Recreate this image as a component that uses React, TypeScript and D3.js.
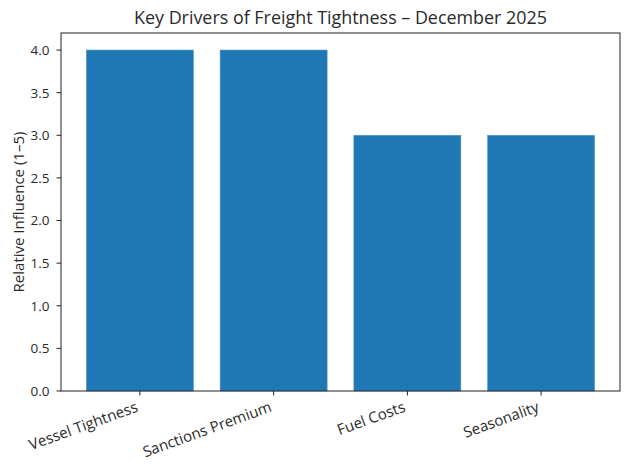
import React from 'react';
import * as d3 from 'd3';

const categories = ['Vessel Tightness', 'Sanctions Premium', 'Fuel Costs', 'Seasonality'];
const values = [4, 4, 3, 3];
const yTicks = [0, 0.5, 1, 1.5, 2, 2.5, 3, 3.5, 4];

const W = 630;
const H = 470;
const m = { left: 61, right: 10, top: 33, bottom: 79 };
const font = '"Open Sans", "Noto Sans", sans-serif';
const textColor = '#2a2a2a';

const App: React.FC = () => {
  const iw = W - m.left - m.right;
  const ih = H - m.top - m.bottom;

  const x = d3.scaleLinear().domain([-0.59, categories.length - 1 + 0.59]).range([0, iw]);
  const y = d3.scaleLinear().domain([0, 4.2]).range([ih, 0]);
  const bw = x(0.8) - x(0);

  return (
    <svg width={W} height={H} style={{ position: 'absolute', left: 0, top: 0, background: '#fff' }}>
      <text x={m.left + iw / 2} y={23.5} textAnchor="middle" fontFamily={font} fontSize={17.9} fill={textColor}>
        Key Drivers of Freight Tightness – December 2025
      </text>
      <g transform={`translate(${m.left},${m.top})`}>
        {values.map((v, i) => (
          <rect
            key={categories[i]}
            x={x(i) - bw / 2}
            y={y(v)}
            width={bw}
            height={y(0) - y(v)}
            fill="#1f77b4"
            stroke="#4d94c9"
            strokeWidth={0.6}
          />
        ))}
        <rect x={0} y={0} width={iw} height={ih} fill="none" stroke="#222" strokeWidth={1} />
        {yTicks.map(t => (
          <g key={t} transform={`translate(0,${y(t)})`}>
            <line x1={-4.5} x2={0} stroke="#222" />
            <text x={-11.5} dy="0.36em" textAnchor="end" fontFamily={font} fontSize={13.5} fill={textColor}>
              {t.toFixed(1)}
            </text>
          </g>
        ))}
        {categories.map((c, i) => (
          <g key={c} transform={`translate(${x(i)},${ih})`}>
            <line y1={0} y2={4.5} stroke="#222" />
            <text
              transform="translate(-1,20) rotate(-20)"
              textAnchor="end"
              fontFamily={font}
              fontSize={15}
              fill={textColor}
            >
              {c}
            </text>
          </g>
        ))}
        <text
          transform={`translate(-37,${ih / 2}) rotate(-90)`}
          textAnchor="middle"
          fontFamily={font}
          fontSize={15}
          fill={textColor}
        >
          Relative Influence (1–5)
        </text>
      </g>
    </svg>
  );
};

export default App;
